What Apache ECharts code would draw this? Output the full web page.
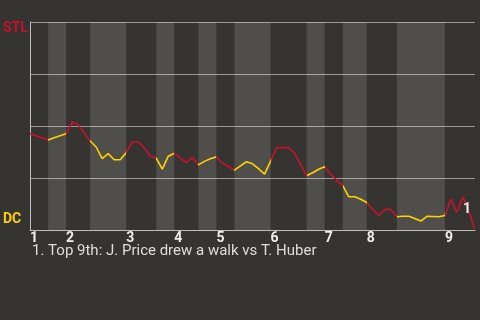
<!DOCTYPE html>
<html>
<head>
<meta charset="utf-8">
<style>
html,body{margin:0;padding:0;background:#363430;}
#chart{width:480px;height:320px;}
</style>
<script src="https://cdn.jsdelivr.net/npm/echarts@6/dist/echarts.min.js"></script>
</head>
<body>
<div id="chart"></div>
<script>
// Win probability for STL (0 = DC wins, 100 = STL wins), one value per plate appearance
const stlWinProb = [46.4,45.3,44.3,43.3,44.3,45.3,46.3,51.9,50.6,46.7,
  42.8,39.9,34.3,36.7,33.8,33.8,37.2,42.3,42.3,39.5,
  35.5,34.5,29.3,35.5,36.9,34.5,32.4,35.0,31.3,33.0,
  34.3,35.2,32.1,30.5,28.8,30.8,32.8,31.8,29.5,26.9,
  33.0,39.6,39.6,39.6,36.9,31.5,26.1,27.5,29.2,30.4,
  26.8,24.0,21.3,16.0,16.0,14.8,13.2,9.9,7.0,9.9,
  9.9,6.4,6.6,6.6,5.5,4.3,6.6,6.5,6.4,7.0,
  14.8,8.5,16.0,8.8,0];
// Plate-appearance index at which each half-inning starts (top 1 ... top 9), plus game end
const halfStarts = [0,3,6,10,16,21,24,28,31,34,40,46,49,52,56,61,69,74];
const inningLabels = ['1','2','3','4','5','6','7','8','9'];
const teams = {top:'STL', bottom:'DC'};
const notes = [{pa:72, text:'1'}];
const footnote = '1. Top 9th: J. Price drew a walk vs T. Huber';

const RED = '#c8102e', YELLOW = '#ffd200';
const data = stlWinProb.map((v,i)=>[i,v]);
const inningStarts = halfStarts.filter((_,i)=>i%2===0 && i<halfStarts.length-1);

const pieces = [];
const bands = [];
for (let i=0;i<halfStarts.length-1;i++){
  const last = i===halfStarts.length-2;
  const p = {gte:halfStarts[i], color: i%2===0?RED:YELLOW};
  if (last) p.lte = halfStarts[i+1]; else p.lt = halfStarts[i+1];
  pieces.push(p);
  if (i%2===1) bands.push([{xAxis:halfStarts[i]},{xAxis:halfStarts[i+1]}]);
}

const chart = echarts.init(document.getElementById('chart'));
chart.setOption({
  backgroundColor:'#363430',
  animation:false,
  grid:{left:30,right:5,top:22,bottom:90},
  xAxis:{type:'value',min:0,max:halfStarts[halfStarts.length-1],
    axisLine:{show:true,lineStyle:{color:'#bdbdbd',width:1}},
    axisTick:{show:false},splitLine:{show:false},
    axisLabel:{customValues:inningStarts,align:'left',margin:1,
      color:'#eeeeee',fontFamily:'Roboto',fontWeight:'bold',fontSize:14,
      formatter:(v)=>inningLabels[inningStarts.indexOf(v)]}},
  yAxis:{type:'value',min:0,max:100,interval:25,
    axisLine:{show:true,lineStyle:{color:'#bdbdbd',width:1}},
    axisTick:{show:false},axisLabel:{show:false},
    splitLine:{show:true,lineStyle:{color:'#9a9a9a',width:1}}},
  visualMap:{show:false,type:'piecewise',dimension:0,seriesIndex:1,pieces:pieces},
  graphic:[
    {type:'text',left:3,top:21,style:{text:teams.top,fill:RED,font:'bold 14px Roboto'}},
    {type:'text',left:3,top:212,style:{text:teams.bottom,fill:YELLOW,font:'bold 14px Roboto'}},
    {type:'text',left:32,top:244,style:{text:footnote,fill:'#dddddd',font:'15px Roboto'}}
  ],
  series:[
    {type:'line',data:[],silent:true,
      markArea:{silent:true,itemStyle:{color:'rgba(255,255,255,0.13)'},data:bands}},
    {type:'line',data:data,symbol:'none',lineStyle:{width:1.6},z:3,
      markPoint:{symbol:'circle',symbolSize:0,
        label:{show:true,position:'inside',offset:[4,13],color:'#eeeeee',
          fontFamily:'Roboto',fontWeight:'bold',fontSize:14,formatter:(p)=>p.name},
        data:notes.map(n=>({name:n.text,coord:[n.pa,stlWinProb[n.pa]]}))}}
  ]
});
</script>
</body>
</html>
